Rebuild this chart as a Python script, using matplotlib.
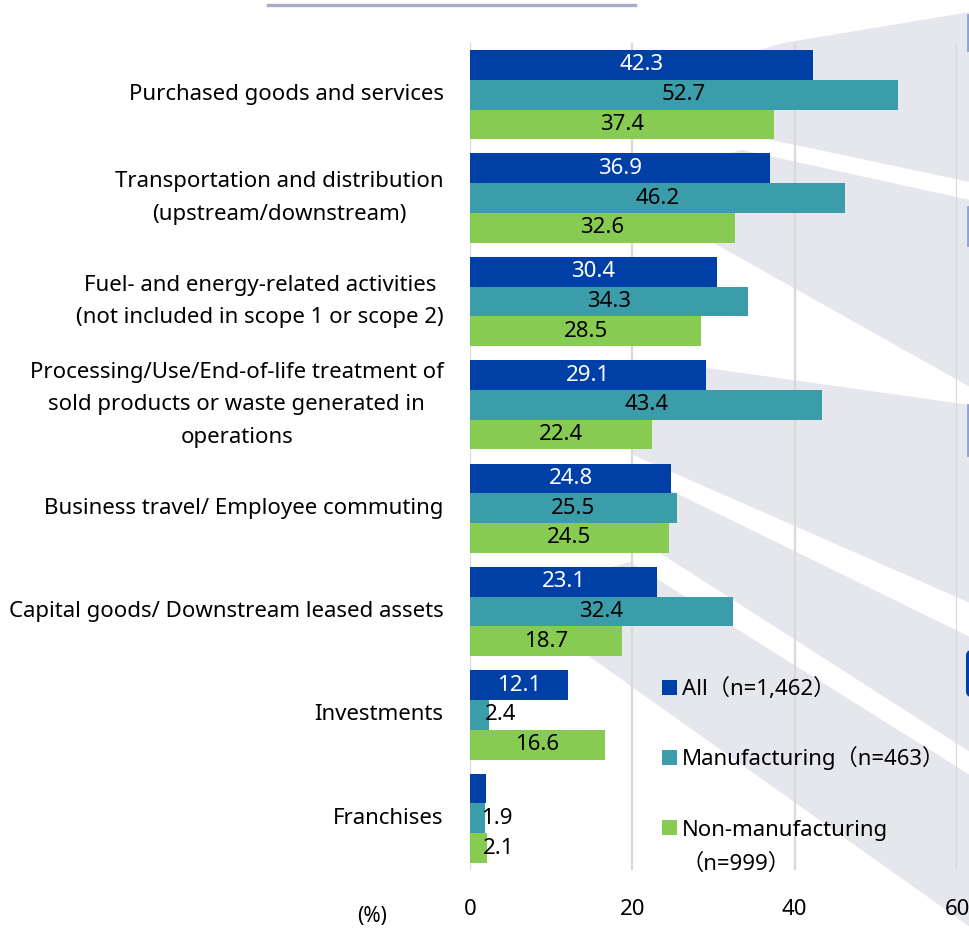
import matplotlib.pyplot as plt
from matplotlib.patches import Polygon, Rectangle, FancyBboxPatch
from matplotlib.lines import Line2D

plt.rcParams['font.family'] = ['Noto Sans', 'Noto Sans CJK JP']

categories = [
    "Purchased goods and services",
    "Transportation and distribution\n(upstream/downstream)",
    "Fuel- and energy-related activities\n(not included in scope 1 or scope 2)",
    "Processing/Use/End-of-life treatment of\nsold products or waste generated in\noperations",
    "Business travel/ Employee commuting",
    "Capital goods/ Downstream leased assets",
    "Investments",
    "Franchises",
]
all_vals = [42.3, 36.9, 30.4, 29.1, 24.8, 23.1, 12.1, 2.0]
mfg_vals = [52.7, 46.2, 34.3, 43.4, 25.5, 32.4, 2.4, 1.9]
non_vals = [37.4, 32.6, 28.5, 22.4, 24.5, 18.7, 16.6, 2.1]
# the "All" franchises bar carries no value label
all_show = [True] * 7 + [False]

series_names = ["All（n=1,462）", "Manufacturing（n=463）", "Non-manufacturing\n（n=999）"]
colors = ["#0040a6", "#3a9da9", "#88cb52"]
text_colors = ["white", "black", "black"]
xticks = [0, 20, 40, 60]

FS = 16
W, H = 970, 930
fig = plt.figure(figsize=(W / 100, H / 100), dpi=100)


def fx(x):
    return x / W


def fy(y):
    return 1 - y / H


# background fan shapes (pixel coords, top-left origin)
bands = [
    [(760, 50), (783, 43), (970, 12), (970, 182), (767, 139)],
    [(700, 160), (742, 150), (970, 200), (970, 387), (712, 242)],
    [(640, 380), (707, 368), (970, 405), (970, 603), (633, 455)],
    [(633, 472), (970, 637), (970, 752), (660, 553), (620, 500)],
    [(600, 570), (630, 562), (970, 775), (970, 927), (590, 657)],
]
for b in bands:
    fig.add_artist(Polygon([(fx(x), fy(y)) for x, y in b], closed=True,
                           transform=fig.transFigure, facecolor="#e5e7ec",
                           edgecolor="none", zorder=-2))

# edges of boxes cut off on the right
for y0, y1 in [(15, 50), (207, 245), (405, 455)]:
    fig.add_artist(Line2D([fx(968), fx(968)], [fy(y0), fy(y1)], color="#8ea3cf",
                          lw=2, transform=fig.transFigure, zorder=-1))
fig.add_artist(FancyBboxPatch((fx(966), fy(697)), fx(20), (697 - 650) / H,
                              boxstyle="round,pad=0,rounding_size=0.006",
                              transform=fig.transFigure, facecolor="#0040a6",
                              edgecolor="none", zorder=-1))

# title underline
fig.add_artist(Line2D([fx(268), fx(635)], [fy(5), fy(5)], color="#a6aec6", lw=2.4,
                      transform=fig.transFigure))

ax = fig.add_axes([fx(470), fy(870), (957 - 470) / W, (870 - 43) / H])
ax.patch.set_alpha(0)

h = 0.288
ypos = [i + 0.5 for i in range(len(categories))]
for k, vals in enumerate([all_vals, mfg_vals, non_vals]):
    ys = [y + (k - 1) * h for y in ypos]
    ax.barh(ys, vals, height=h, color=colors[k], zorder=3)
    for j, (y, v) in enumerate(zip(ys, vals)):
        if k == 0 and not all_show[j]:
            continue
        if v < 5:
            ax.annotate(f"{v:.1f}", (v, y), xytext=(-3, 0), textcoords="offset points",
                        ha="left", va="center", fontsize=FS, color="black", zorder=4)
        else:
            ax.text(v / 2, y, f"{v:.1f}", ha="center", va="center", fontsize=FS,
                    color=text_colors[k], zorder=4)

ax.set_xlim(0, 60)
ax.set_ylim(len(categories), 0)
ax.set_xticks(xticks)
ax.set_xticklabels([str(t) for t in xticks], fontsize=FS)
ax.set_yticks(ypos)
ax.set_yticklabels(categories, fontsize=FS, multialignment="center", linespacing=1.72,
                   va="center")
ax.tick_params(axis="both", length=0)
ax.tick_params(axis="y", pad=19)
ax.tick_params(axis="x", pad=21)
ax.grid(axis="x", color="#d9d9d9", lw=1.6, zorder=0)
ax.grid(axis="y", visible=False)
for s in ax.spines.values():
    s.set_visible(False)

fig.text(fx(372), fy(916), "(%)", ha="center", va="center", fontsize=FS - 1)

# legend: square beside the first line, baseline set on the last line
leg_y = [687, 757, 827]
line_px = 35
for name, c, y in zip(series_names, colors, leg_y):
    fig.add_artist(Rectangle((fx(662), fy(y + 7.5)), 15 / W, 15 / H, facecolor=c,
                             edgecolor="none", transform=fig.transFigure))
    extra = name.count("\n") * line_px
    fig.text(fx(682), fy(y + 8 + extra), name, ha="left", va="baseline", fontsize=FS,
             linespacing=1.82)

fig.savefig("out.png", dpi=100)
